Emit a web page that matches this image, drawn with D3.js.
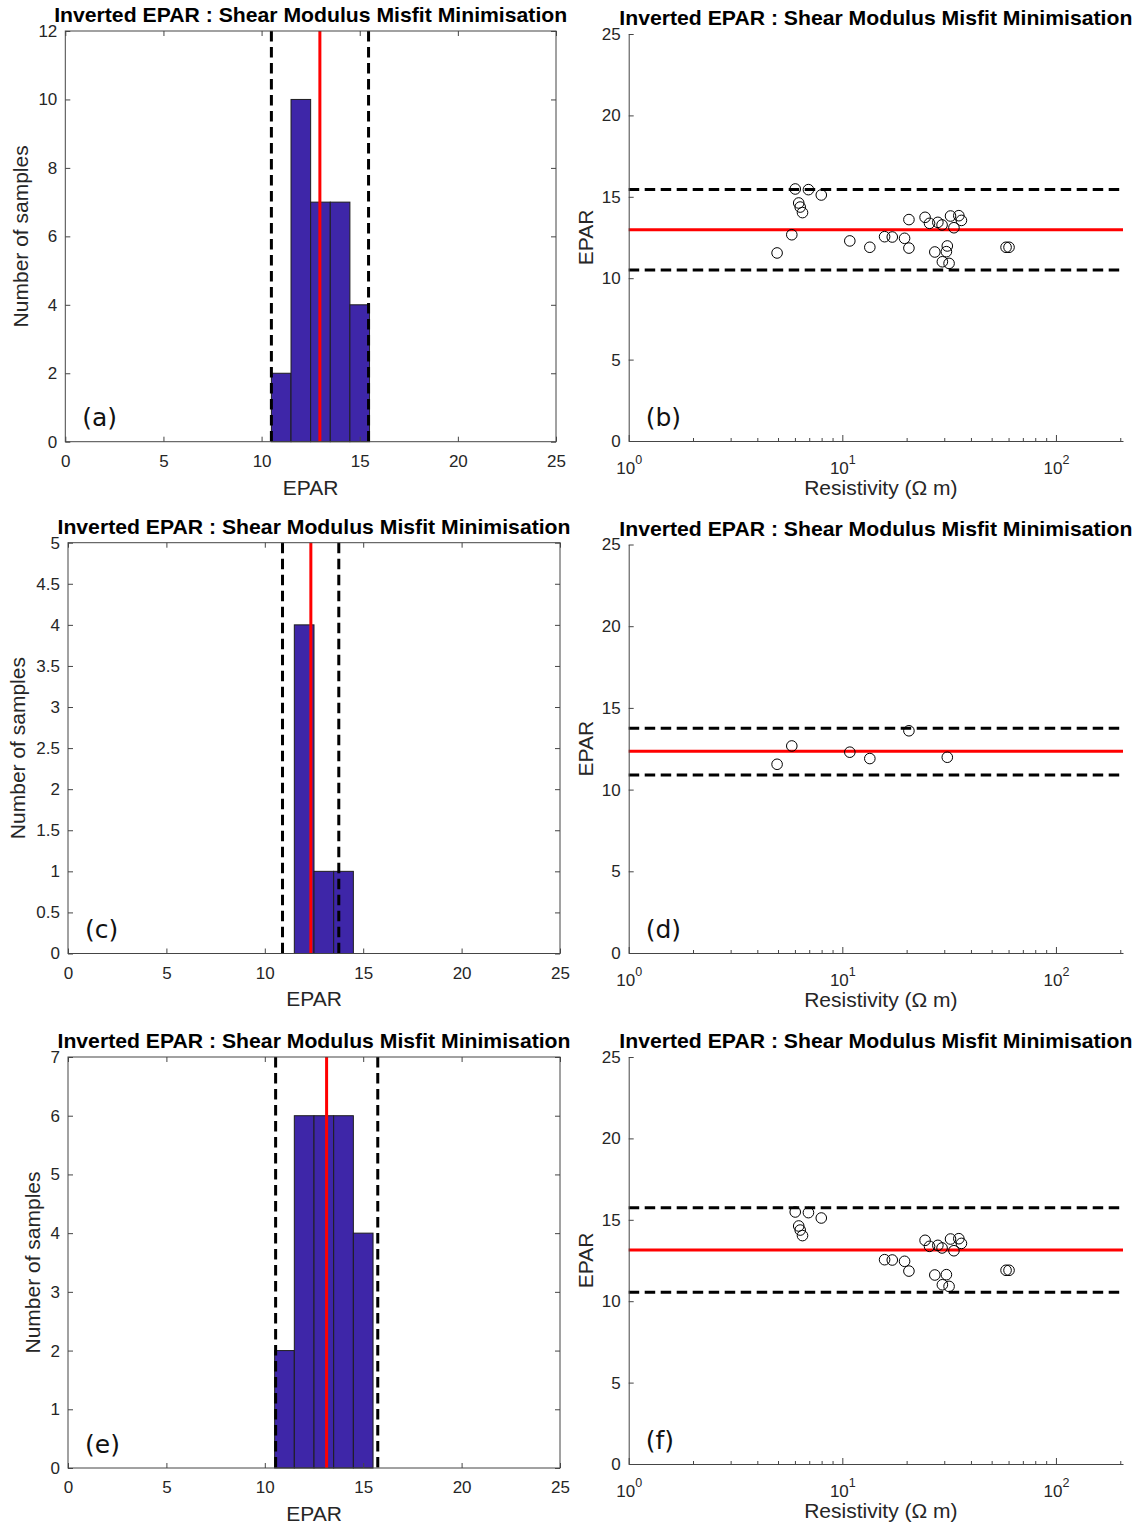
<!doctype html>
<html lang="en">
<head>
<meta charset="utf-8">
<title>Inverted EPAR</title>
<script src="https://cdn.jsdelivr.net/npm/d3@7"></script>
<style>
  body { margin: 0; background: #fff; }
  svg { display: block; font-family: "Liberation Sans", Arial, sans-serif; }
  .tick text { fill: #262626; font-size: 17px; font-family: "Liberation Sans", Arial, sans-serif; }
  .tick line, .domain { stroke: #454545; stroke-width: 1; }
  .box { fill: none; stroke: #454545; stroke-width: 1; }
  .ttl { font-weight: bold; font-size: 21px; fill: #000; }
  .lbl { font-size: 21px; fill: #262626; }
  .tag { font-family: "DejaVu Sans", sans-serif; font-size: 25px; fill: #111; }
</style>
</head>
<body>
<svg id="chart" width="1138" height="1523"></svg>
<script>
// histogram bins (EPAR), shared by the three histograms
var binEdges = [10.5, 11.5, 12.5, 13.5, 14.5, 15.5]
var countsA = [2, 10, 7, 7, 4]
var countsC = [0, 4, 1, 1, 0]
var countsE = [2, 6, 6, 6, 4]

// samples shown in (d)
var resD = [4.95, 5.80, 10.84, 13.45, 20.5, 31.0]
var eparD = [11.55, 12.67, 12.29, 11.90, 13.60, 11.98]

// samples shown in (f)
var resF = [6.02, 6.94, 6.25, 6.35, 6.51, 7.97, 15.77, 17.13, 19.56, 20.5, 24.4, 25.6,
            27.1, 28.0, 29.3, 30.7, 29.4, 31.6, 32.1, 33.3, 35.1, 36.1, 58.4, 60.3]
var eparF = [15.48, 15.44, 14.62, 14.37, 14.03, 15.11, 12.55, 12.53, 12.45, 11.85, 13.74, 13.37,
             11.61, 13.43, 13.27, 11.63, 11.01, 10.91, 13.82, 13.10, 13.84, 13.55, 11.90, 11.90]

// (b) holds all samples
var resB = resD.concat(resF)
var eparB = eparD.concat(eparF)

// mean (red) and lower / upper bounds (dashed) for rows 1..3
var meanLines = [12.97, 12.34, 13.14]
var lowLines = [10.5, 10.9, 10.55]
var highLines = [15.45, 13.76, 15.74]

var histXTicks = [0, 5, 10, 15, 20, 25]
var yTicksA = [0, 2, 4, 6, 8, 10, 12]
var yTicksC = [0, 0.5, 1, 1.5, 2, 2.5, 3, 3.5, 4, 4.5, 5]
var yTicksE = [0, 1, 2, 3, 4, 5, 6, 7]
var eparTicks = [0, 5, 10, 15, 20, 25]
var resMajor = [1, 10, 100]
var resMinor = [2, 3, 4, 5, 6, 7, 8, 9, 20, 30, 40, 50, 60, 70, 80, 90, 200]

var titleText = 'Inverted EPAR : Shear Modulus Misfit Minimisation'
var svg = d3.select('#chart')

function addTitle(g, w) {
  g.append('text').attr('class', 'ttl')
    .attr('x', w / 2).attr('y', -9)
    .attr('text-anchor', 'middle')
    .attr('textLength', 513).attr('lengthAdjust', 'spacingAndGlyphs')
    .text(titleText)
}

function histPanel(box, counts, yTicks, row, tag, yLabelOff) {
  var g = svg.append('g').attr('transform', 'translate(' + box.x + ',' + box.y + ')')
  var x = d3.scaleLinear().domain([0, 25]).range([0, box.w])
  var y = d3.scaleLinear().domain([0, yTicks[yTicks.length - 1]]).range([box.h, 0])

  var bins = counts.map(function(c, i) { return { x0: binEdges[i], x1: binEdges[i + 1], n: c } })
    .filter(function(d) { return d.n > 0 })

  g.selectAll('rect.bar').data(bins).enter().append('rect')
    .attr('class', 'bar')
    .attr('x', function(d) { return x(d.x0) })
    .attr('width', function(d) { return x(d.x1) - x(d.x0) })
    .attr('y', function(d) { return y(d.n) })
    .attr('height', function(d) { return box.h - y(d.n) })
    .attr('fill', '#3E26A8').attr('stroke', '#1e1e1e').attr('stroke-width', 1)

  g.selectAll('line.bound').data([lowLines[row], highLines[row]]).enter().append('line')
    .attr('x1', x).attr('x2', x).attr('y1', 0).attr('y2', box.h)
    .attr('stroke', '#000').attr('stroke-width', 3).attr('stroke-dasharray', '10.5 5.5')
  g.append('line')
    .attr('x1', x(meanLines[row])).attr('x2', x(meanLines[row]))
    .attr('y1', 0).attr('y2', box.h)
    .attr('stroke', '#ff0000').attr('stroke-width', 3)

  g.append('g').attr('transform', 'translate(0,' + box.h + ')')
    .call(d3.axisBottom(x).tickValues(histXTicks).tickSizeInner(-5).tickSizeOuter(0).tickPadding(13))
  g.append('g')
    .call(d3.axisLeft(y).tickValues(yTicks).tickFormat(d3.format('')).tickSizeInner(-5).tickSizeOuter(0).tickPadding(8))
  g.append('g')
    .call(d3.axisTop(x).tickValues(histXTicks).tickFormat('').tickSizeInner(-5).tickSizeOuter(0))
  g.append('g').attr('transform', 'translate(' + box.w + ',0)')
    .call(d3.axisRight(y).tickValues(yTicks).tickFormat('').tickSizeInner(-5).tickSizeOuter(0))
  g.selectAll('.domain').remove()
  g.append('rect').attr('class', 'box').attr('width', box.w).attr('height', box.h)

  addTitle(g, box.w)
  g.append('text').attr('class', 'lbl').attr('x', box.w / 2).attr('y', box.h + 53)
    .attr('text-anchor', 'middle').text('EPAR')
  g.append('text').attr('class', 'lbl')
    .attr('transform', 'translate(' + (-yLabelOff) + ',' + (box.h / 2) + ') rotate(-90)')
    .attr('text-anchor', 'middle').text('Number of samples')
  g.append('text').attr('class', 'tag').attr('x', 17).attr('y', box.h - 15.5).text(tag)
}

function scatterPanel(box, res, epar, row, tag) {
  var g = svg.append('g').attr('transform', 'translate(' + box.x + ',' + box.y + ')')
  var x = d3.scaleLog().domain([1, 206]).range([0, box.w])
  var y = d3.scaleLinear().domain([0, 25]).range([box.h, 0])

  g.selectAll('line.bound').data([lowLines[row], highLines[row]]).enter().append('line')
    .attr('x1', 0).attr('x2', box.w).attr('y1', y).attr('y2', y)
    .attr('stroke', '#000').attr('stroke-width', 3).attr('stroke-dasharray', '10.5 5.5')
  g.append('line')
    .attr('x1', 0).attr('x2', box.w)
    .attr('y1', y(meanLines[row])).attr('y2', y(meanLines[row]))
    .attr('stroke', '#ff0000').attr('stroke-width', 3)

  g.selectAll('circle').data(res).enter().append('circle')
    .attr('cx', function(d) { return x(d) })
    .attr('cy', function(d, i) { return y(epar[i]) })
    .attr('r', 5.3)
    .attr('fill', 'none').attr('stroke', '#000').attr('stroke-width', 1)

  g.append('g').attr('transform', 'translate(0,' + box.h + ')')
    .call(d3.axisBottom(x).tickValues(resMinor).tickFormat('').tickSizeInner(-3).tickSizeOuter(0))
    .select('.domain').remove()
  var xa = g.append('g').attr('transform', 'translate(0,' + box.h + ')')
    .call(d3.axisBottom(x).tickValues(resMajor).tickSizeInner(-6).tickSizeOuter(0).tickPadding(21))
  xa.selectAll('.tick text').each(function(d) {
    var t = d3.select(this).text('')
    t.append('tspan').text('10')
    t.append('tspan').attr('dy', -10).style('font-size', '12.5px').text(Math.round(Math.log10(d)))
  })
  g.append('g')
    .call(d3.axisLeft(y).tickValues(eparTicks).tickSizeInner(-5).tickSizeOuter(0).tickPadding(8))

  addTitle(g, box.w)
  g.append('text').attr('class', 'lbl').attr('x', box.w / 2 + 5).attr('y', box.h + 54)
    .attr('text-anchor', 'middle').text('Resistivity (\u03A9 m)')
  g.append('text').attr('class', 'lbl')
    .attr('transform', 'translate(-36,' + (box.h / 2) + ') rotate(-90)')
    .attr('text-anchor', 'middle').text('EPAR')
  g.append('text').attr('class', 'tag').attr('x', 17).attr('y', box.h - 15).text(tag)
}

histPanel({ x: 65.3, y: 31, w: 490.7, h: 410.7 }, countsA, yTicksA, 0, '(a)', 37)
histPanel({ x: 68, y: 542.7, w: 492, h: 410.8 }, countsC, yTicksC, 1, '(c)', 43)
histPanel({ x: 68, y: 1057, w: 492, h: 411 }, countsE, yTicksE, 2, '(e)', 28)

scatterPanel({ x: 628.7, y: 34, w: 494.3, h: 407 }, resB, eparB, 0, '(b)')
scatterPanel({ x: 628.7, y: 544.5, w: 494.3, h: 408.5 }, resD, eparD, 1, '(d)')
scatterPanel({ x: 628.7, y: 1057, w: 494.3, h: 407 }, resF, eparF, 2, '(f)')
</script>
</body>
</html>
